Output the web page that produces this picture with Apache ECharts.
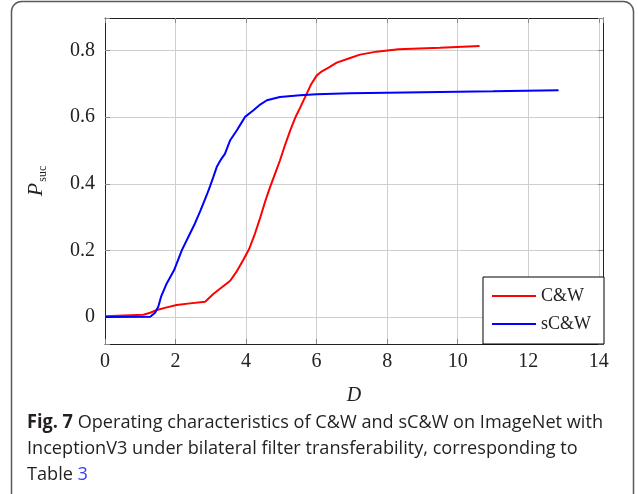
<!DOCTYPE html>
<html>
<head>
<meta charset="utf-8">
<script src="https://cdn.jsdelivr.net/npm/echarts@6/dist/echarts.min.js"></script>
<style>html,body{margin:0;padding:0;background:#fff;}#c{width:638px;height:494px;}</style>
</head>
<body>
<div id="c"></div>
<script>
const seriesNames = ['C&W', 'sC&W'];
const cwD = [0, 1.09, 1.28, 1.47, 1.75, 2.03, 2.41, 2.84, 3.07, 3.36, 3.55, 3.74, 3.92, 4.09, 4.25, 4.40, 4.55, 4.68, 4.82, 4.96, 5.10, 5.25, 5.40, 5.53, 5.72, 5.85, 6.0, 6.15, 6.35, 6.57, 6.95, 7.23, 7.7, 8.32, 9.5, 10.62];
const cwP = [0.002, 0.007, 0.013, 0.021, 0.029, 0.036, 0.041, 0.046, 0.069, 0.093, 0.109, 0.138, 0.171, 0.205, 0.25, 0.298, 0.35, 0.39, 0.43, 0.47, 0.515, 0.56, 0.60, 0.628, 0.671, 0.70, 0.725, 0.738, 0.75, 0.764, 0.778, 0.788, 0.797, 0.804, 0.809, 0.814];
const scwD = [0, 1.28, 1.42, 1.51, 1.59, 1.75, 1.96, 2.18, 2.41, 2.55, 2.70, 2.88, 2.98, 3.07, 3.17, 3.30, 3.40, 3.55, 3.74, 3.85, 3.97, 4.21, 4.40, 4.59, 4.96, 5.53, 6.0, 6.95, 9, 11, 12.86];
const scwP = [0, 0.001, 0.013, 0.031, 0.061, 0.101, 0.141, 0.201, 0.251, 0.281, 0.318, 0.365, 0.393, 0.42, 0.451, 0.475, 0.49, 0.531, 0.561, 0.58, 0.601, 0.621, 0.638, 0.651, 0.661, 0.666, 0.669, 0.672, 0.675, 0.678, 0.681];
const xTicks = [0, 2, 4, 6, 8, 10, 12, 14];
const yTicks = [0, 0.2, 0.4, 0.6, 0.8];
const captionLines = [
  '{b|Fig. 7} Operating characteristics of C&W and sC&W on ImageNet with',
  'InceptionV3 under bilateral filter transferability, corresponding to',
  'Table {l|3}'
];

const serif = '"Liberation Serif", "Times New Roman", serif';
const sans = '"Open Sans", "Noto Sans", sans-serif';

function isTick(v, list) { return list.some(t => Math.abs(t - v) < 1e-6); }

const cv = document.createElement('canvas').getContext('2d');
function w(txt, bold) { cv.font = (bold ? 'bold ' : '') + '19px ' + sans; return cv.measureText(txt).width; }
const line1W = w('Fig. 7', true) + w(' Operating characteristics of C&W and sC&W on ImageNet with', false);
const capScale = 576 / line1W;

const chart = echarts.init(document.getElementById('c'), null, {renderer: 'canvas'});
const axisLabelStyle = {fontFamily: serif, fontSize: 20, color: '#222'};
const frameLine = {show: true, onZero: false, lineStyle: {color: '#222', width: 1}};
const tick = {show: true, inside: true, length: 5, lineStyle: {color: '#888'}};
const grid = {show: true, showMinLine: false, showMaxLine: false, lineStyle: {color: '#cfcfcf', width: 1}};
chart.setOption({
  animation: false,
  grid: {left: 105, top: 18, right: 35, bottom: 150},
  legend: {
    data: seriesNames,
    orient: 'vertical', right: 34, bottom: 150,
    backgroundColor: '#fff', borderColor: '#000', borderWidth: 1, borderRadius: 0,
    padding: [10, 13, 11, 9], itemGap: 10, itemWidth: 44, itemHeight: 16,
    icon: 'path://M0,0L44,0L44,2L0,2Z',
    textStyle: {fontFamily: serif, fontSize: 18, color: '#222', lineHeight: 16}
  },
  xAxis: [{
    type: 'value', min: 0, max: 14.12, splitNumber: 7,
    name: 'D', nameLocation: 'middle', nameGap: 42,
    nameTextStyle: {fontFamily: serif, fontSize: 20, fontStyle: 'italic', color: '#222'},
    axisLine: frameLine, axisTick: tick,
    axisLabel: Object.assign({margin: 8, formatter: v => isTick(v, xTicks) ? String(Math.round(v)) : ''}, axisLabelStyle),
    splitLine: grid
  }, {
    type: 'value', min: 0, max: 14.12, splitNumber: 7, position: 'top',
    axisLine: frameLine, axisLabel: {show: false}, splitLine: {show: false}, axisTick: tick
  }],
  yAxis: [{
    type: 'value', min: -0.081, max: 0.898, splitNumber: 5,
    name: '{p|P}{s|suc}', nameLocation: 'middle', nameGap: 58, nameRotate: 90,
    nameTextStyle: {
      rich: {
        p: {fontFamily: serif, fontSize: 22, fontStyle: 'italic', color: '#222', lineHeight: 22},
        s: {fontFamily: serif, fontSize: 12, color: '#222', verticalAlign: 'bottom', lineHeight: 12, padding: [0, 0, -2, 1]}
      }
    },
    axisLine: frameLine, axisTick: tick,
    axisLabel: Object.assign({margin: 10, formatter: v => isTick(v, yTicks) ? String(Math.round(v * 10) / 10) : ''}, axisLabelStyle),
    splitLine: grid
  }, {
    type: 'value', min: -0.081, max: 0.898, splitNumber: 5, position: 'right',
    axisLine: frameLine, axisLabel: {show: false}, splitLine: {show: false}, axisTick: tick
  }],
  series: [{
    name: seriesNames[0], type: 'line', symbol: 'none', showSymbol: false,
    color: '#ff0000', lineStyle: {color: '#ff0000', width: 2},
    data: cwD.map((d, i) => [d, cwP[i]])
  }, {
    name: seriesNames[1], type: 'line', symbol: 'none', showSymbol: false,
    color: '#0000ff', lineStyle: {color: '#0000ff', width: 2},
    data: scwD.map((d, i) => [d, scwP[i]])
  }],
  graphic: [{
    type: 'rect', silent: true, z: 100,
    shape: {x: 11.5, y: 1.5, width: 622, height: 540, r: 10},
    style: {fill: 'none', stroke: '#5a5a5a', lineWidth: 1.5}
  }, {
    type: 'text', silent: true, z: 100,
    x: 27, y: 410, scaleX: capScale, scaleY: 1,
    style: {
      text: captionLines.join('\n'),
      font: '19px ' + sans, fill: '#231f20', lineHeight: 26,
      rich: {
        b: {fontWeight: 'bold', fontFamily: sans, fontSize: 19, fill: '#231f20', lineHeight: 26},
        l: {fontFamily: sans, fontSize: 19, fill: '#3a3aff', lineHeight: 26}
      }
    }
  }]
});
</script>
</body>
</html>
